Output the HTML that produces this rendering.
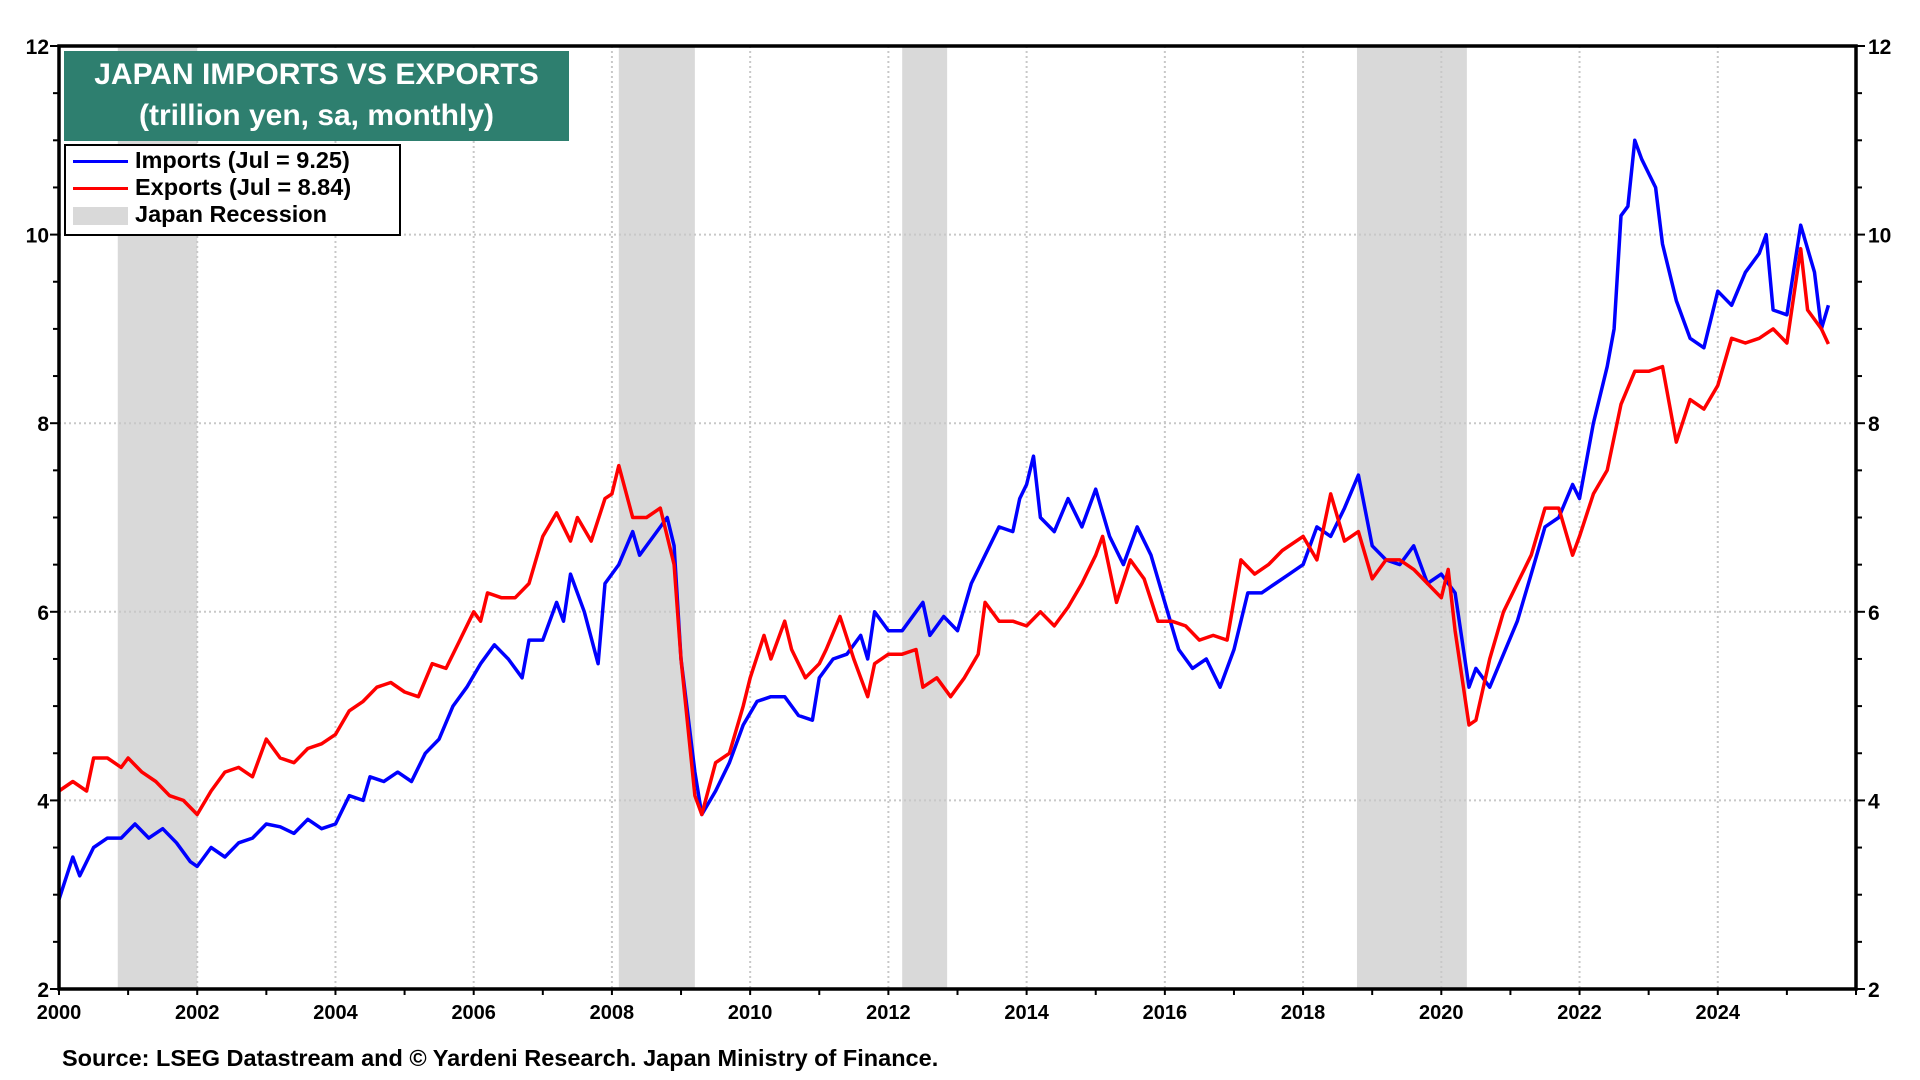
<!DOCTYPE html>
<html><head><meta charset="utf-8"><style>
html,body{margin:0;padding:0;background:#fff;}
svg{display:block;font-family:"Liberation Sans",Arial,sans-serif;font-weight:bold;}
</style></head><body>
<svg id="chart" width="1920" height="1080" viewBox="0 0 1920 1080"></svg>
<script>
const impT=[2000.0,2000.2,2000.3,2000.5,2000.7,2000.9,2001.1,2001.3,2001.5,2001.7,2001.9,2002.0,2002.2,2002.4,2002.6,2002.8,2003.0,2003.2,2003.4,2003.6,2003.8,2004.0,2004.2,2004.4,2004.5,2004.7,2004.9,2005.1,2005.3,2005.5,2005.7,2005.9,2006.1,2006.3,2006.5,2006.7,2006.8,2007.0,2007.2,2007.3,2007.4,2007.6,2007.8,2007.9,2008.1,2008.3,2008.4,2008.6,2008.8,2008.9,2009.0,2009.2,2009.3,2009.5,2009.7,2009.9,2010.1,2010.3,2010.5,2010.7,2010.9,2011.0,2011.2,2011.4,2011.6,2011.7,2011.8,2012.0,2012.2,2012.4,2012.5,2012.6,2012.8,2013.0,2013.2,2013.4,2013.6,2013.8,2013.9,2014.0,2014.1,2014.2,2014.4,2014.6,2014.8,2015.0,2015.2,2015.4,2015.6,2015.8,2016.0,2016.2,2016.4,2016.6,2016.8,2017.0,2017.2,2017.4,2017.6,2017.8,2018.0,2018.2,2018.4,2018.6,2018.8,2019.0,2019.2,2019.4,2019.6,2019.8,2020.0,2020.2,2020.4,2020.5,2020.7,2020.9,2021.1,2021.3,2021.5,2021.7,2021.9,2022.0,2022.2,2022.4,2022.5,2022.6,2022.7,2022.8,2022.9,2023.1,2023.2,2023.4,2023.6,2023.8,2024.0,2024.2,2024.4,2024.6,2024.7,2024.8,2025.0,2025.2,2025.4,2025.5,2025.6];
const impV=[2.95,3.4,3.2,3.5,3.6,3.6,3.75,3.6,3.7,3.55,3.35,3.3,3.5,3.4,3.55,3.6,3.75,3.72,3.65,3.8,3.7,3.75,4.05,4.0,4.25,4.2,4.3,4.2,4.5,4.65,5.0,5.2,5.45,5.65,5.5,5.3,5.7,5.7,6.1,5.9,6.4,6.0,5.45,6.3,6.5,6.85,6.6,6.8,7.0,6.7,5.5,4.3,3.85,4.1,4.4,4.8,5.05,5.1,5.1,4.9,4.85,5.3,5.5,5.55,5.75,5.5,6.0,5.8,5.8,6.0,6.1,5.75,5.95,5.8,6.3,6.6,6.9,6.85,7.2,7.35,7.65,7.0,6.85,7.2,6.9,7.3,6.8,6.5,6.9,6.6,6.1,5.6,5.4,5.5,5.2,5.6,6.2,6.2,6.3,6.4,6.5,6.9,6.8,7.1,7.45,6.7,6.55,6.5,6.7,6.3,6.4,6.2,5.2,5.4,5.2,5.55,5.9,6.4,6.9,7.0,7.35,7.2,8.0,8.6,9.0,10.2,10.3,11.0,10.8,10.5,9.9,9.3,8.9,8.8,9.4,9.25,9.6,9.8,10.0,9.2,9.15,10.1,9.6,9.0,9.25];
const expT=[2000.0,2000.2,2000.4,2000.5,2000.7,2000.9,2001.0,2001.2,2001.4,2001.6,2001.8,2002.0,2002.2,2002.4,2002.6,2002.8,2003.0,2003.2,2003.4,2003.6,2003.8,2004.0,2004.2,2004.4,2004.6,2004.8,2005.0,2005.2,2005.4,2005.6,2005.8,2006.0,2006.1,2006.2,2006.4,2006.6,2006.8,2007.0,2007.2,2007.4,2007.5,2007.7,2007.9,2008.0,2008.1,2008.3,2008.5,2008.7,2008.9,2009.0,2009.2,2009.3,2009.5,2009.7,2009.9,2010.0,2010.2,2010.3,2010.5,2010.6,2010.8,2011.0,2011.1,2011.3,2011.5,2011.7,2011.8,2012.0,2012.2,2012.4,2012.5,2012.7,2012.9,2013.1,2013.3,2013.4,2013.6,2013.8,2014.0,2014.2,2014.4,2014.6,2014.8,2015.0,2015.1,2015.3,2015.5,2015.7,2015.9,2016.1,2016.3,2016.5,2016.7,2016.9,2017.1,2017.3,2017.5,2017.7,2018.0,2018.2,2018.4,2018.6,2018.8,2019.0,2019.2,2019.4,2019.6,2019.8,2020.0,2020.1,2020.2,2020.4,2020.5,2020.7,2020.9,2021.1,2021.3,2021.5,2021.7,2021.9,2022.0,2022.2,2022.4,2022.6,2022.8,2023.0,2023.2,2023.3,2023.4,2023.6,2023.8,2024.0,2024.2,2024.4,2024.6,2024.8,2025.0,2025.2,2025.3,2025.5,2025.6];
const expV=[4.1,4.2,4.1,4.45,4.45,4.35,4.45,4.3,4.2,4.05,4.0,3.85,4.1,4.3,4.35,4.25,4.65,4.45,4.4,4.55,4.6,4.7,4.95,5.05,5.2,5.25,5.15,5.1,5.45,5.4,5.7,6.0,5.9,6.2,6.15,6.15,6.3,6.8,7.05,6.75,7.0,6.75,7.2,7.25,7.55,7.0,7.0,7.1,6.5,5.5,4.05,3.85,4.4,4.5,5.0,5.3,5.75,5.5,5.9,5.6,5.3,5.45,5.6,5.95,5.5,5.1,5.45,5.55,5.55,5.6,5.2,5.3,5.1,5.3,5.55,6.1,5.9,5.9,5.85,6.0,5.85,6.05,6.3,6.6,6.8,6.1,6.55,6.35,5.9,5.9,5.85,5.7,5.75,5.7,6.55,6.4,6.5,6.65,6.8,6.55,7.25,6.75,6.85,6.35,6.55,6.55,6.45,6.3,6.15,6.45,5.8,4.8,4.85,5.5,6.0,6.3,6.6,7.1,7.1,6.6,6.8,7.25,7.5,8.2,8.55,8.55,8.6,8.2,7.8,8.25,8.15,8.4,8.9,8.85,8.9,9.0,8.85,9.85,9.2,9.0,8.84];
const recStart=[2000.85,2008.1,2012.2,2018.78];
const recEnd=[2002.0,2009.2,2012.85,2020.37];
const yTicks=[2,4,6,8,10,12];
const xTicks=[2000,2002,2004,2006,2008,2010,2012,2014,2016,2018,2020,2022,2024];

const L=59,R=1856,T=46,B=989;
const X=t=>L+(t-2000)/26*(R-L);
const Y=v=>B-(v-2)/10*(B-T);
const NS='http://www.w3.org/2000/svg';
const svg=document.getElementById('chart');
function mk(tag,attrs,parent){const e=document.createElementNS(NS,tag);for(const k in attrs)e.setAttribute(k,attrs[k]);(parent||svg).appendChild(e);return e;}

for(let i=0;i<recStart.length;i++){
  const r=mk('rect',{x:X(recStart[i]),y:T,width:X(recEnd[i])-X(recStart[i]),height:B-T,fill:'#d9d9d9'});
  
  
}
yTicks.forEach(v=>{
  if(v>2&&v<12){const g=mk('line',{x1:L,x2:R,y1:Y(v),y2:Y(v),stroke:'#c8c8c8','stroke-width':2,'stroke-dasharray':'2,3'});
  
  }
  const t1=mk('text',{x:L-10,y:Y(v)+8,'text-anchor':'end','font-size':21},null);t1.textContent=v;
  
  
  const t2=mk('text',{x:R+12,y:Y(v)+8,'text-anchor':'start','font-size':21});t2.textContent=v;
  
  
});
for(let v=2;v<=12;v+=0.5){
  const len=(v%2===0)?9:6;
  mk('line',{x1:L-len,x2:L,y1:Y(v),y2:Y(v),stroke:'#000','stroke-width':2});
  mk('line',{x1:R,x2:R+len,y1:Y(v),y2:Y(v),stroke:'#000','stroke-width':2});
}
xTicks.forEach(t=>{
  if(t>2000){const g=mk('line',{x1:X(t),x2:X(t),y1:T,y2:B,stroke:'#c8c8c8','stroke-width':2,'stroke-dasharray':'2,3'});
  
  }
  const tx=mk('text',{x:X(t),y:B+30,'text-anchor':'middle','font-size':20});tx.textContent=t;
  
  
});
for(let t=2000;t<=2026;t++){mk('line',{x1:X(t),x2:X(t),y1:B,y2:B+6,stroke:'#000','stroke-width':2});}

function line(ts,vs,color,name){
  const d=ts.map((t,i)=>(i?'L':'M')+X(t).toFixed(1)+','+Y(vs[i]).toFixed(1)).join('');
  const p=mk('path',{d:d,fill:'none',stroke:color,'stroke-width':3.5,'stroke-linejoin':'round'});
  
  
}
line(impT,impV,'#0000ff','imports-line');
line(expT,expV,'#ff0000','exports-line');

const fr=mk('rect',{x:L,y:T,width:R-L,height:B-T,fill:'none',stroke:'#000','stroke-width':3.5});


</script>
<div style="position:absolute;left:64px;top:51px;width:505px;height:90px;background:#2e7f6f;color:#fff;font-family:'Liberation Sans',Arial,sans-serif;font-weight:bold;text-align:center;font-size:30px;line-height:41px;padding-top:3px;box-sizing:border-box;">
<div>JAPAN IMPORTS VS EXPORTS</div>
<div>(trillion yen, sa, monthly)</div>
</div>
<div style="position:absolute;left:64px;top:144px;width:337px;height:92px;border:2.5px solid #000;box-sizing:border-box;background:#fff;font-family:'Liberation Sans',Arial,sans-serif;font-weight:bold;font-size:23.5px;line-height:27px;">
<div style="position:absolute;left:7px;top:1px;white-space:nowrap;"><span style="display:inline-block;width:55px;height:3px;background:#0000ff;vertical-align:middle;margin-right:7px;"></span>Imports (Jul = 9.25)</div>
<div style="position:absolute;left:7px;top:28px;white-space:nowrap;"><span style="display:inline-block;width:55px;height:3px;background:#ff0000;vertical-align:middle;margin-right:7px;"></span>Exports (Jul = 8.84)</div>
<div style="position:absolute;left:7px;top:55px;white-space:nowrap;"><span style="display:inline-block;width:55px;height:18px;background:#d9d9d9;vertical-align:middle;margin-right:7px;"></span>Japan Recession</div>
</div>
<div style="position:absolute;left:62px;top:1045px;font-family:'Liberation Sans',Arial,sans-serif;font-weight:bold;font-size:23.5px;white-space:nowrap;">Source: LSEG Datastream and © Yardeni Research. Japan Ministry of Finance.</div>
</body></html>
